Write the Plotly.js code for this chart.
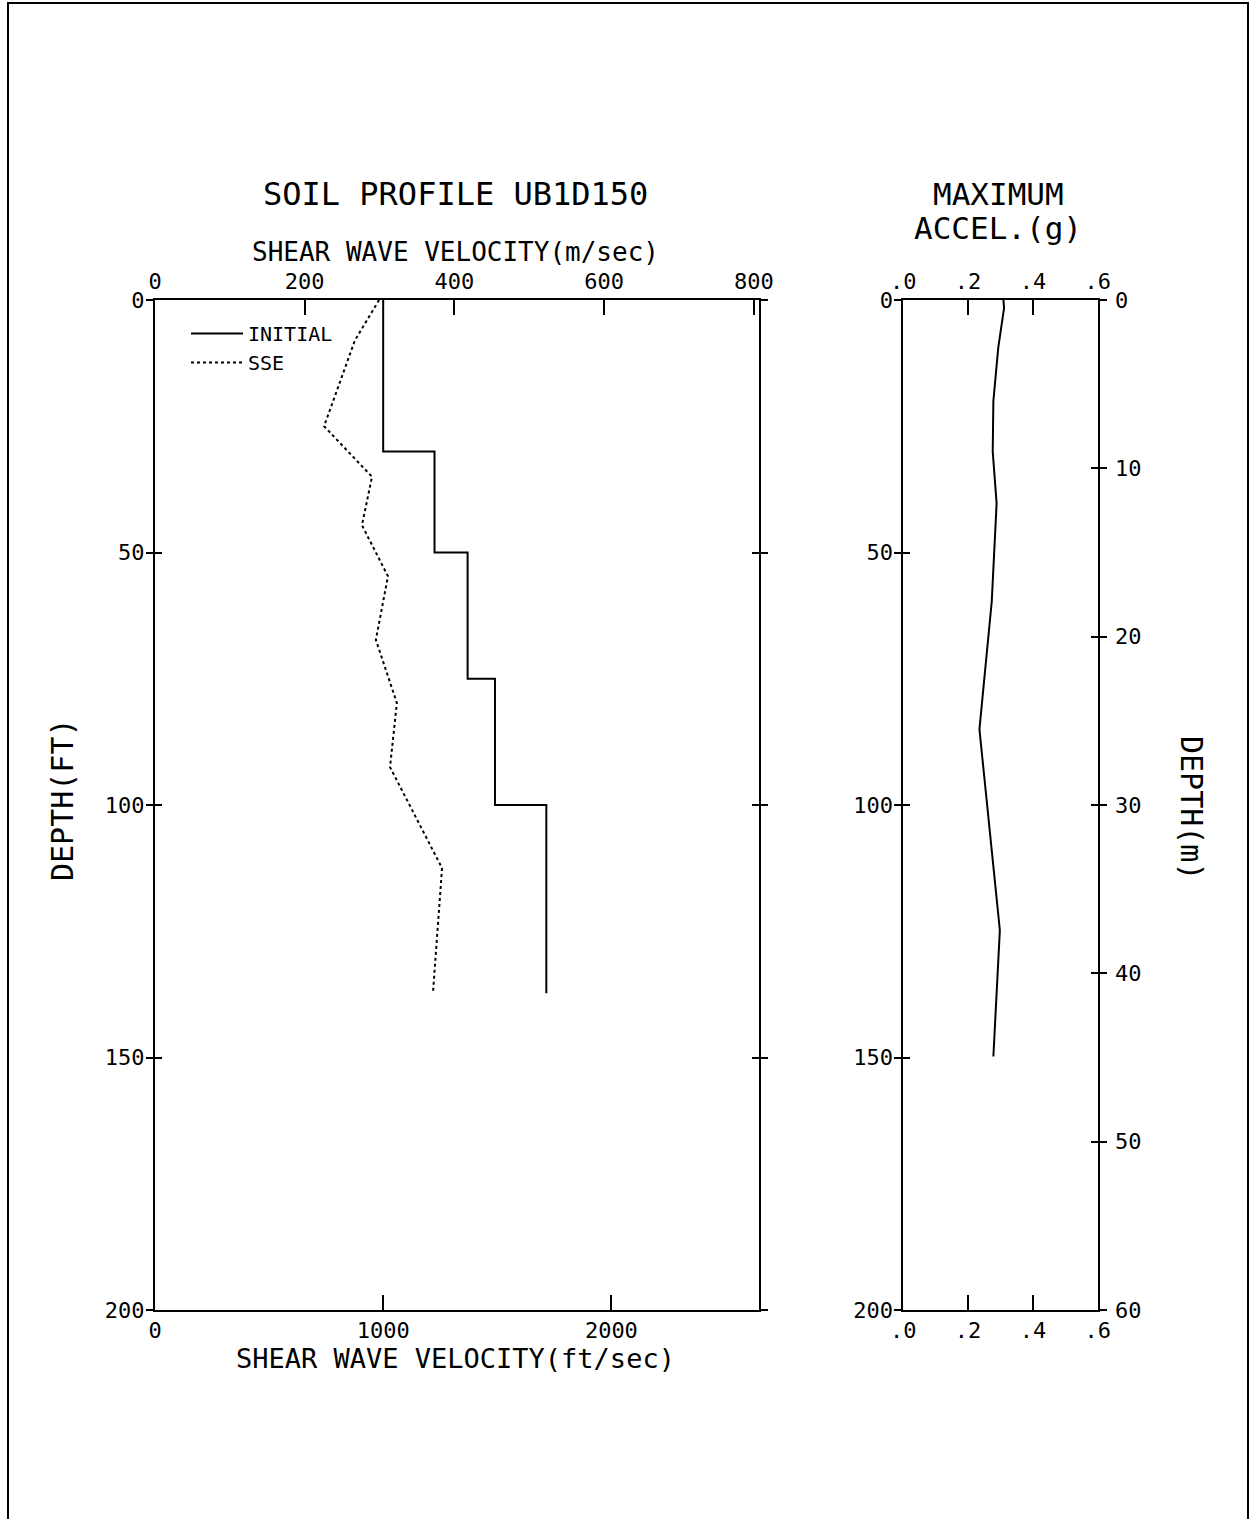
<!DOCTYPE html>
<html>
<head>
<meta charset="utf-8">
<script src="https://cdn.plot.ly/plotly-3.0.1.min.js"></script>
<style>html,body{margin:0;padding:0;background:#fff;}#chart{width:1251px;height:1519px;}</style>
</head>
<body>
<div id="chart"></div>
<script>
// ---- data ----
// INITIAL profile: layer-top depths (ft) and shear wave velocity (ft/sec)
var initialDepth = [0, 30, 50, 75, 100, 137.3];
var initialVel   = [1000, 1225, 1370, 1490, 1715, 1715];
// SSE (strain-compatible) profile
var sseDepth = [0, 8, 25, 35, 44.6, 54.7, 67.3, 79.8, 92.5, 112.5, 137.3];
var sseVel   = [982, 876, 741, 951, 907, 1021, 968, 1060, 1030, 1258, 1218];
// Maximum acceleration profile
var accDepth = [0, 1.6, 9.5, 20, 30, 40.3, 59.7, 85, 124.8, 149.8];
var accVal   = [0.309, 0.311, 0.293, 0.278, 0.276, 0.288, 0.273, 0.235, 0.298, 0.278];
// tick labels
var ftTicks = [0, 1000, 2000];
var msTicks = [0, 200, 400, 600, 800];
var depthTicks = [0, 50, 100, 150, 200];
var depthMTicks = [0, 10, 20, 30, 40, 50, 60];
var accTicks = [0, 0.2, 0.4, 0.6];
var accTickText = ['.0', '.2', '.4', '.6'];

var W = 1251, H = 1519;
function px(x){ return x / W; }
function py(y){ return 1 - y / H; }

var FONT = 'DejaVu Sans Mono, Liberation Mono, monospace';
var tickFont = {family: FONT, size: 22, color: '#000'};

var ftMax = 2647;
function dummy(xa, ya){
  return {x: [], y: [], type: 'scatter', mode: 'lines', showlegend: false, hoverinfo: 'skip', xaxis: xa, yaxis: ya};
}
var traces = [
  {x: initialVel, y: initialDepth, type: 'scatter', mode: 'lines', name: 'INITIAL',
   line: {color: '#000', width: 2, shape: 'vh'}, xaxis: 'x', yaxis: 'y'},
  {x: sseVel, y: sseDepth, type: 'scatter', mode: 'lines', name: 'SSE',
   line: {color: '#000', width: 2, dash: 'dot'}, xaxis: 'x', yaxis: 'y'},
  {x: accVal, y: accDepth, type: 'scatter', mode: 'lines', name: 'ACC', showlegend: false,
   line: {color: '#000', width: 2}, xaxis: 'x3', yaxis: 'y3'},
  dummy('x2', 'y'), dummy('x', 'y2'), dummy('x', 'y5'),
  dummy('x4', 'y3'), dummy('x3', 'y6'), dummy('x3', 'y4'), dummy('x3', 'y7')
];

var dxL = [px(155), px(759)];
var dyP = [py(1310), py(300)];
var dxR = [px(903.3), px(1097.7)];

var common = {showgrid: false, zeroline: false, showline: true, linecolor: '#000', linewidth: 2,
  tickcolor: '#000', tickwidth: 2, tickfont: tickFont, fixedrange: true};
function ax(o){ return Object.assign({}, common, o); }

function ann(text, x, y, size, angle){
  return {text: text, x: px(x), y: py(y), xref: 'paper', yref: 'paper', xanchor: 'center', yanchor: 'middle',
    textangle: angle || 0, showarrow: false, font: {family: FONT, size: size, color: '#000'}};
}

var layout = {
  width: W, height: H,
  margin: {l: 0, r: 0, t: 0, b: 0},
  paper_bgcolor: '#fff', plot_bgcolor: '#fff',
  showlegend: true,
  legend: {x: px(186), y: py(314), xanchor: 'left', yanchor: 'top', bgcolor: 'rgba(0,0,0,0)',
    font: {family: FONT, size: 20, color: '#000'}, itemwidth: 52, tracegroupgap: 0},
  xaxis: ax({domain: dxL, range: [0, ftMax], anchor: 'y', side: 'bottom', tickvals: ftTicks,
    ticks: 'inside', ticklen: 15, mirror: true}),
  xaxis2: ax({overlaying: 'x', anchor: 'y', side: 'top', range: [0, ftMax * 0.3048], tickvals: msTicks,
    ticks: 'inside', ticklen: 15}),
  yaxis: ax({domain: dyP, range: [200, 0], anchor: 'x', side: 'left', tickvals: depthTicks,
    ticks: 'inside', ticklen: 7, mirror: 'ticks', ticklabelstandoff: 4}),
  yaxis2: ax({overlaying: 'y', anchor: 'x', side: 'left', range: [200, 0], tickvals: depthTicks,
    ticks: 'outside', ticklen: 7, showticklabels: false}),
  yaxis5: ax({overlaying: 'y', anchor: 'x', side: 'right', range: [200, 0], tickvals: depthTicks,
    ticks: 'outside', ticklen: 7, showticklabels: false}),
  xaxis3: ax({domain: dxR, range: [0, 0.6], anchor: 'y3', side: 'bottom', tickvals: accTicks,
    ticktext: accTickText, ticks: 'inside', ticklen: 15, mirror: true}),
  xaxis4: ax({overlaying: 'x3', anchor: 'y3', side: 'top', range: [0, 0.6], tickvals: accTicks,
    ticktext: accTickText, ticks: 'inside', ticklen: 15}),
  yaxis3: ax({domain: dyP, range: [200, 0], anchor: 'x3', side: 'left', tickvals: depthTicks,
    ticks: 'inside', ticklen: 7, mirror: true, ticklabelstandoff: 4}),
  yaxis6: ax({overlaying: 'y3', anchor: 'x3', side: 'left', range: [200, 0], tickvals: depthTicks,
    ticks: 'outside', ticklen: 7, showticklabels: false}),
  yaxis4: ax({overlaying: 'y3', anchor: 'x3', side: 'right', range: [60, 0], tickvals: depthMTicks,
    ticks: 'outside', ticklen: 7, ticklabelstandoff: 4}),
  yaxis7: ax({overlaying: 'y3', anchor: 'x3', side: 'right', range: [60, 0], tickvals: depthMTicks,
    ticks: 'inside', ticklen: 7, showticklabels: false}),
  annotations: [
    ann('SOIL PROFILE UB1D150', 455, 194, 32),
    ann('MAXIMUM', 998, 194, 31),
    ann('ACCEL.(g)', 998, 228, 31),
    ann('SHEAR WAVE VELOCITY(m/sec)', 455, 252, 26),
    ann('SHEAR WAVE VELOCITY(ft/sec)', 455, 1358, 27),
    ann('DEPTH(FT)', 62, 800, 30, -90),
    ann('DEPTH(m)', 1192, 808, 30, 90)
  ],
  shapes: [
    {type: 'rect', xref: 'paper', yref: 'paper', x0: px(8), x1: px(1248), y0: -0.01, y1: py(3),
     line: {color: '#000', width: 2}}
  ]
};

Plotly.newPlot('chart', traces, layout, {staticPlot: true, displayModeBar: false});
</script>
</body>
</html>
